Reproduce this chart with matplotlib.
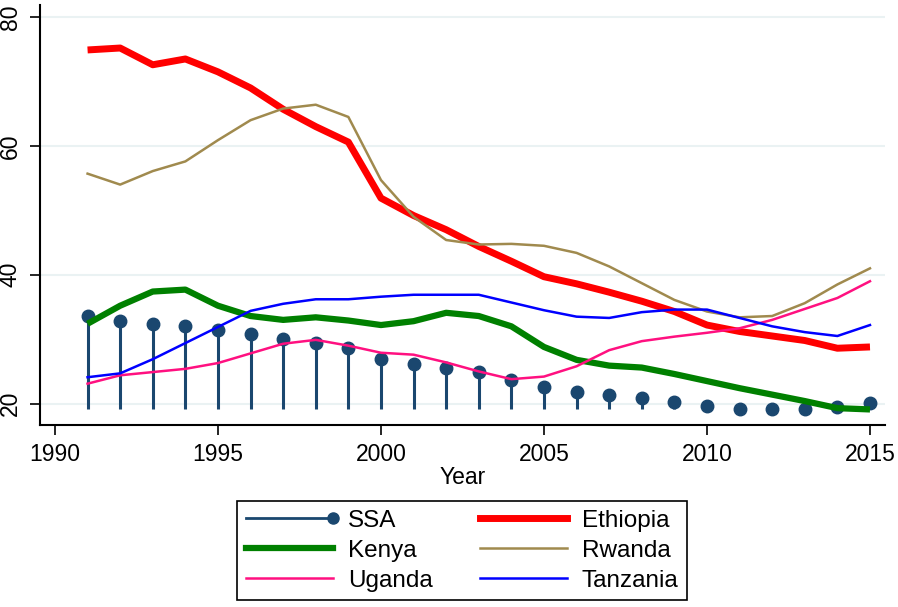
import matplotlib
matplotlib.use("Agg")
import matplotlib.pyplot as plt
from matplotlib.lines import Line2D
from matplotlib.legend_handler import HandlerLine2D

plt.rcParams['font.family'] = ['Liberation Sans', 'DejaVu Sans']

# datos
years = list(range(1991, 2016))
ssa = [33.6, 32.8, 32.4, 32.0, 31.5, 30.8, 30.1, 29.4, 28.7, 26.9, 26.2, 25.6, 24.9,
       23.7, 22.6, 21.8, 21.3, 20.8, 20.3, 19.7, 19.1, 19.2, 19.2, 19.5, 20.1]
ethiopia = [74.9, 75.2, 72.6, 73.5, 71.5, 69.0, 65.7, 63.0, 60.6, 51.9, 49.2, 47.0, 44.4,
            42.1, 39.7, 38.6, 37.3, 35.9, 34.3, 32.2, 31.2, 30.5, 29.8, 28.6, 28.8]
kenya = [32.4, 35.2, 37.4, 37.7, 35.2, 33.6, 33.0, 33.4, 32.9, 32.2, 32.8, 34.1, 33.6,
         32.0, 28.8, 26.8, 25.9, 25.6, 24.6, 23.5, 22.4, 21.4, 20.4, 19.3, 19.1]
rwanda = [55.7, 54.0, 56.1, 57.6, 60.9, 64.0, 65.8, 66.4, 64.5, 54.7, 49.0, 45.4, 44.7,
          44.8, 44.5, 43.4, 41.3, 38.7, 36.1, 34.3, 33.4, 33.6, 35.6, 38.5, 41.0]
uganda = [23.1, 24.4, 24.9, 25.4, 26.3, 27.8, 29.3, 29.9, 29.0, 27.9, 27.6, 26.4, 25.0,
          23.8, 24.2, 25.8, 28.3, 29.7, 30.4, 31.0, 31.7, 33.0, 34.7, 36.4, 39.0]
tanzania = [24.1, 24.7, 26.9, 29.4, 31.9, 34.4, 35.5, 36.2, 36.2, 36.6, 36.9, 36.9, 36.9,
            35.7, 34.5, 33.5, 33.3, 34.2, 34.6, 34.6, 33.3, 32.0, 31.1, 30.5, 32.2]

navy = '#1a476f'


# manejador para la leyenda de SSA: linea con el punto al final
class PuntoFinal(HandlerLine2D):
    def create_artists(self, legend, orig, xdescent, ydescent, width, height, fontsize, trans):
        y = height / 2 - ydescent
        linea = Line2D([-xdescent, width - xdescent], [y, y], color=navy, lw=2)
        punto = Line2D([width - xdescent], [y], marker='o', color=navy, ms=8, ls='none')
        linea.set_transform(trans)
        punto.set_transform(trans)
        return [linea, punto]


fig = plt.figure(figsize=(8.98, 6.07), dpi=100)
ax = fig.add_axes([0.0445, 0.30, 0.941, 0.692])

base = min(ssa)
ax.vlines(years, base, ssa, color=navy, lw=2.2, zorder=2)
ax.plot(years, ssa, 'o', color=navy, ms=9, zorder=2)

ax.plot(years, ethiopia, color='#ff0000', lw=5, zorder=3, solid_capstyle='butt')
ax.plot(years, kenya, color='#008000', lw=4.5, zorder=3, solid_capstyle='butt')
ax.plot(years, rwanda, color='#a08a4e', lw=1.8, zorder=3)
ax.plot(years, uganda, color='#ff1080', lw=1.8, zorder=3)
ax.plot(years, tanzania, color='#0000ff', lw=1.8, zorder=3)

ax.set_xlim(1989.54, 2015.46)
ax.set_ylim(16.7, 81.9)
ax.set_xticks([1990, 1995, 2000, 2005, 2010, 2015])
ax.set_yticks([20, 40, 60, 80])
ax.tick_params(axis='both', labelsize=16.5, length=7, width=1.2, direction='out', colors='black')
ax.tick_params(axis='x', pad=6)
ax.tick_params(axis='y', pad=6)
plt.setp(ax.get_yticklabels(), rotation=90, va='center')
ax.grid(axis='y', color='#eaf2f3', lw=1.5, zorder=0)
ax.set_axisbelow(True)
for lado in ['top', 'right']:
    ax.spines[lado].set_visible(False)
for lado in ['left', 'bottom']:
    ax.spines[lado].set_linewidth(1.5)
ax.set_xlabel('Year', fontsize=16.5, labelpad=0)

# leyenda (orden por filas como en el original)
manejadores = [
    Line2D([], [], color=navy),
    Line2D([], [], color='#008000', lw=4.5),
    Line2D([], [], color='#ff1080', lw=1.8),
    Line2D([], [], color='#ff0000', lw=5),
    Line2D([], [], color='#a08a4e', lw=1.8),
    Line2D([], [], color='#0000ff', lw=1.8),
]
etiquetas = ['SSA', 'Kenya', 'Uganda', 'Ethiopia', 'Rwanda', 'Tanzania']
leg = fig.legend(manejadores, etiquetas, ncol=2, loc='center',
                 bbox_to_anchor=(0.264, 0.005, 0.501, 0.175), mode='expand',
                 fontsize=17.5, handlelength=3.6, handletextpad=0.6, labelspacing=0.33,
                 columnspacing=1.0,
                 fancybox=False, edgecolor='black', framealpha=1, borderpad=0.35,
                 borderaxespad=0,
                 handler_map={manejadores[0]: PuntoFinal()})
leg.get_frame().set_linewidth(1.2)

fig.savefig('out.png', dpi=100)
